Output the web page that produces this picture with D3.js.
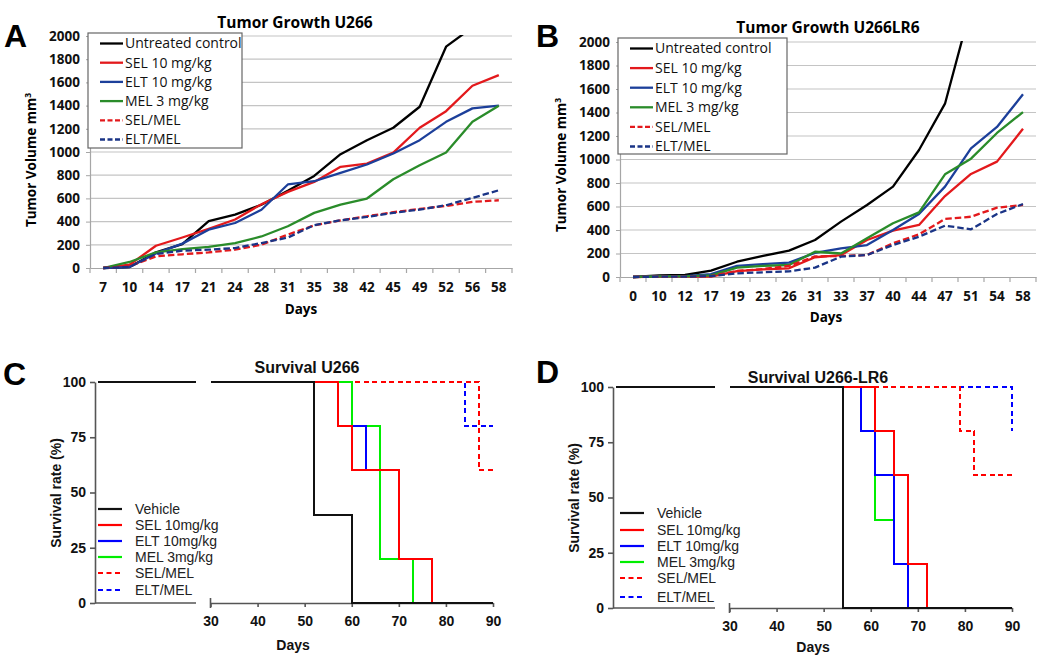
<!DOCTYPE html>
<html>
<head>
<meta charset="utf-8">
<title>Tumor growth and survival</title>
<script src="https://d3js.org/d3.v7.min.js"></script>
<style>
  body { margin: 0; background: #fff; }
</style>
</head>
<body>
<div id="chart"></div>
<script>
// ---- growth data (panel A, U266) ----
const daysA = [7, 10, 14, 17, 21, 24, 28, 31, 35, 38, 42, 45, 49, 52, 56, 58];
const untreatedA = [0, 8, 135, 205, 405, 460, 545, 665, 794, 981, 1102, 1209, 1390, 1908, 2075];
const selA = [0, 28, 192, 263, 338, 418, 550, 656, 742, 872, 900, 995, 1209, 1352, 1571, 1663];
const eltA = [0, 8, 126, 210, 330, 388, 502, 720, 748, 820, 892, 987, 1102, 1260, 1376, 1399];
const melA = [0, 52, 135, 162, 183, 215, 272, 360, 475, 547, 599, 765, 886, 996, 1260, 1399];
const selMelA = [0, 17, 100, 118, 135, 158, 200, 288, 368, 411, 446, 481, 509, 535, 570, 584];
const eltMelA = [0, 10, 121, 149, 158, 172, 215, 262, 370, 411, 440, 475, 504, 541, 604, 670];

// ---- growth data (panel B, U266LR6) ----
const daysB = [0, 10, 12, 17, 19, 23, 26, 31, 33, 37, 40, 44, 47, 51, 54, 58];
const untreatedB = [0, 14, 17, 54, 130, 179, 224, 315, 471, 613, 769, 1081, 1475, 2300];
const selB = [0, 3, 3, 3, 50, 65, 74, 168, 187, 315, 394, 443, 689, 877, 982, 1262];
const eltB = [0, 8, 8, 25, 94, 110, 122, 205, 244, 272, 400, 536, 769, 1095, 1277, 1555];
const melB = [0, 5, 5, 14, 80, 94, 102, 215, 200, 329, 457, 550, 874, 1007, 1226, 1404];
const selMelB = [0, 3, 3, 8, 51, 68, 94, 175, 179, 187, 287, 363, 494, 513, 590, 613];
const eltMelB = [0, 3, 3, 8, 31, 40, 48, 80, 173, 187, 272, 343, 437, 406, 536, 621];

const growthNames = ["Untreated control", "SEL 10 mg/kg", "ELT 10 mg/kg", "MEL 3 mg/kg", "SEL/MEL", "ELT/MEL"];
const growthTicks = [0, 200, 400, 600, 800, 1000, 1200, 1400, 1600, 1800, 2000];

// ---- survival data: [day, percent alive] ----
const vehicleC = [[0, 100], [52, 40], [60, 0], [90, 0]];
const selC = [[0, 100], [57, 80], [60, 60], [70, 20], [77, 0]];
const eltC = [[0, 100], [57, 80], [63, 60], [70, 20], [77, 0]];
const melC = [[0, 100], [60, 80], [66, 20], [73, 0]];
const selMelC = [[0, 100], [87, 60], [90, 60]];
const eltMelC = [[0, 100], [84, 80], [90, 80]];

const vehicleD = [[0, 100], [54, 0], [90, 0]];
const selD = [[0, 100], [61, 80], [65, 60], [68, 20], [72, 0]];
const eltD = [[0, 100], [58, 80], [61, 60], [65, 20], [68, 0]];
const melD = [[0, 100], [61, 40], [65, 20], [68, 0]];
const selMelD = [[0, 100], [79, 80], [82, 60], [90, 60]];
const eltMelD = [[0, 100], [90, 80]];

const survivalNames = ["Vehicle", "SEL 10mg/kg", "ELT 10mg/kg", "MEL 3mg/kg", "SEL/MEL", "ELT/MEL"];
const survivalTicks = [0, 25, 50, 75, 100];
const dayTicks = [30, 40, 50, 60, 70, 80, 90];

// styles
const xlColors = ["#000000", "#e3191c", "#1c3f9a", "#2a8c2a", "#e3191c", "#1a3486"];
const xlDash = [null, null, null, null, "6.5,3", "6.5,3"];
const pzColors = ["#111111", "#ff0000", "#0000ff", "#00ee00", "#ff0000", "#0000ff"];
const pzDash = [null, null, null, null, "5,3.5", "5,3.5"];
const xlFont = "'Open Sans', 'Liberation Sans', sans-serif";
const pzFont = "'Liberation Sans', Arial, sans-serif";

const svg = d3.select("#chart").append("svg")
  .attr("width", 1050).attr("height", 657);
svg.append("rect").attr("width", 1050).attr("height", 657).attr("fill", "#fff");

function growthPanel(p) {
  const g = svg.append("g");
  const x = d3.scaleBand().domain(p.days).range([p.left, p.right]);
  const y = d3.scaleLinear().domain([0, 2000]).range([p.bottom, p.top]);

  // gridlines
  g.append("g").selectAll("line").data(growthTicks.slice(1)).join("line")
    .attr("x1", p.left).attr("x2", p.right)
    .attr("y1", d => y(d)).attr("y2", d => y(d))
    .attr("stroke", "#c4c4c4").attr("stroke-width", 1.2);

  const ya = g.append("g").attr("transform", `translate(${p.left},0)`)
    .call(d3.axisLeft(y).tickValues(growthTicks).tickFormat(d3.format("d"))
      .tickSize(4).tickSizeOuter(0).tickPadding(6));
  ya.select(".domain").attr("stroke", "#a6a6a6").attr("stroke-width", 1.2);
  ya.selectAll(".tick line").attr("stroke", "#a6a6a6");
  ya.selectAll("text").attr("font-family", xlFont).attr("font-size", 13.5)
    .attr("font-weight", 700).attr("fill", "#111");

  const xa = g.append("g").attr("transform", `translate(0,${p.bottom})`)
    .call(d3.axisBottom(x).tickSize(0).tickSizeOuter(0).tickPadding(14));
  xa.select(".domain").attr("stroke", "#a6a6a6").attr("stroke-width", 1.2);
  xa.selectAll("text").attr("font-family", xlFont).attr("font-size", 13.5)
    .attr("font-weight", 700).attr("fill", "#111");
  // ticks between categories
  g.append("g").selectAll("line").data(d3.range(p.days.length + 1)).join("line")
    .attr("x1", i => p.left + i * x.step()).attr("x2", i => p.left + i * x.step())
    .attr("y1", p.bottom).attr("y2", p.bottom + 5)
    .attr("stroke", "#a6a6a6").attr("stroke-width", 1.2);

  const clipId = "clip" + p.letter;
  svg.append("clipPath").attr("id", clipId).append("rect")
    .attr("x", p.left).attr("y", p.top - 1)
    .attr("width", p.right - p.left).attr("height", p.bottom - p.top + 3);

  const line = d3.line()
    .x((d, i) => x(p.days[i]) + x.bandwidth() / 2)
    .y(d => y(d));
  const order = [0, 1, 2, 3, 4, 5];
  g.append("g").attr("clip-path", `url(#${clipId})`)
    .selectAll("path").data(order).join("path")
    .attr("d", i => line(p.series[i]))
    .attr("fill", "none")
    .attr("stroke", i => xlColors[i])
    .attr("stroke-width", 2.3)
    .attr("stroke-dasharray", i => xlDash[i])
    .attr("stroke-linejoin", "round");

  // legend
  const lg = g.append("g");
  lg.append("rect").attr("x", p.legX).attr("y", p.legY)
    .attr("width", p.legW).attr("height", p.legH)
    .attr("fill", "#fff").attr("stroke", "#666").attr("stroke-width", 1.2);
  const rows = lg.selectAll("g").data(growthNames).join("g")
    .attr("transform", (d, i) => `translate(${p.legX + 12},${p.legY + 10.5 + i * p.legStep})`);
  rows.append("line").attr("x1", 0).attr("x2", 23)
    .attr("stroke", (d, i) => xlColors[i]).attr("stroke-width", 2.3)
    .attr("stroke-dasharray", (d, i) => xlDash[i] ? "5,2.5" : null);
  rows.append("text").attr("x", 25).attr("dy", "0.35em")
    .attr("font-family", xlFont).attr("font-size", 14).attr("fill", "#111")
    .text(d => d);

  // titles
  g.append("text").attr("x", p.titleX).attr("y", p.titleY).attr("text-anchor", "middle")
    .attr("font-family", xlFont).attr("font-size", 15.5).attr("font-weight", 700)
    .text(p.title);
  g.append("text").attr("transform", `translate(${p.yLabX},${p.yLabY}) rotate(-90)`)
    .attr("text-anchor", "middle").attr("font-family", xlFont)
    .attr("font-size", 13.5).attr("font-weight", 700)
    .text("Tumor Volume mm").append("tspan").attr("dy", -5).attr("font-size", 8.5).text("3");
  g.append("text").attr("x", p.daysX).attr("y", p.daysY).attr("text-anchor", "middle")
    .attr("font-family", xlFont).attr("font-size", 13.5).attr("font-weight", 700)
    .text("Days");
  g.append("text").attr("x", p.letterX).attr("y", p.letterY)
    .attr("font-family", pzFont).attr("font-size", 32).attr("font-weight", 700)
    .text(p.letter);
}

// points of a step curve that fall inside one segment of the broken axis
function stepsIn(ev, lo, hi) {
  const valueAt = t => ev.filter(e => e[0] <= t).slice(-1)[0][1];
  const pts = [[lo, valueAt(lo)]];
  ev.forEach(e => { if (e[0] > lo && e[0] <= hi) pts.push(e); });
  const last = pts[pts.length - 1];
  if (last[0] < hi && ev[ev.length - 1][0] > last[0]) pts.push([hi, last[1]]);
  return pts;
}

function survivalPanel(p) {
  const g = svg.append("g");
  const y = d3.scaleLinear().domain([0, 100]).range([p.bottom, p.top]);
  const xL = d3.scaleLinear().domain([0, 25]).range([p.axisX + 3, p.leftEnd]);
  const xR = d3.scaleLinear().domain([30, 90]).range([p.r0, p.r1]);

  const ya = g.append("g").attr("transform", `translate(${p.axisX},0)`)
    .call(d3.axisLeft(y).tickValues(survivalTicks).tickSize(5).tickSizeOuter(0).tickPadding(4));
  ya.select(".domain").attr("stroke", "#555").attr("stroke-width", 1.6);
  ya.selectAll(".tick line").attr("stroke", "#555").attr("stroke-width", 1.6);
  ya.selectAll("text").attr("font-family", pzFont).attr("font-size", 14)
    .attr("font-weight", 700).attr("fill", "#111");

  // left axis segment (no ticks)
  g.append("line").attr("x1", p.axisX).attr("x2", xL(25))
    .attr("y1", y(0)).attr("y2", y(0))
    .attr("stroke", "#555").attr("stroke-width", 1.6);

  const xa = g.append("g").attr("transform", `translate(0,${p.bottom})`)
    .call(d3.axisBottom(xR).tickValues(dayTicks).tickSize(4).tickSizeOuter(0).tickPadding(9));
  xa.select(".domain").attr("stroke", "#555").attr("stroke-width", 1.6);
  xa.selectAll(".tick line").attr("stroke", "#555").attr("stroke-width", 1.6);
  xa.selectAll("text").attr("font-family", pzFont).attr("font-size", 14)
    .attr("font-weight", 700).attr("fill", "#111");
  g.append("line").attr("x1", xR(30)).attr("x2", xR(30))
    .attr("y1", p.bottom - 5).attr("y2", p.bottom + 5)
    .attr("stroke", "#555").attr("stroke-width", 1.6);

  const lineL = d3.line().curve(d3.curveStepAfter).x(d => xL(d[0])).y(d => y(d[1]));
  const lineR = d3.line().curve(d3.curveStepAfter).x(d => xR(d[0])).y(d => y(d[1]));
  const order = [5, 4, 3, 2, 1, 0];
  const lines = g.append("g").attr("shape-rendering", "crispEdges");
  order.forEach(i => {
    const ev = p.series[i];
    [[lineL, 0, 25], [lineR, 30, 90]].forEach(([ln, lo, hi]) => {
      lines.append("path").attr("d", ln(stepsIn(ev, lo, hi)))
        .attr("fill", "none").attr("stroke", pzColors[i]).attr("stroke-width", 2)
        .attr("stroke-dasharray", pzDash[i]);
    });
  });

  // legend
  const rows = g.append("g").selectAll("g").data(survivalNames).join("g")
    .attr("transform", (d, i) => `translate(${p.legX},${p.legRows[i]})`);
  rows.append("line").attr("x1", 0).attr("x2", 24)
    .attr("stroke", (d, i) => pzColors[i]).attr("stroke-width", 2.2)
    .attr("stroke-dasharray", (d, i) => pzDash[i] ? "5,3.5" : null);
  rows.append("text").attr("x", 37).attr("dy", "0.35em")
    .attr("font-family", pzFont).attr("font-size", 14).attr("fill", "#222")
    .text(d => d);

  g.append("text").attr("x", p.titleX).attr("y", p.titleY).attr("text-anchor", "middle")
    .attr("font-family", pzFont).attr("font-size", 16).attr("font-weight", 700)
    .attr("fill", "#111").text(p.title);
  g.append("text").attr("transform", `translate(${p.yLabX},${p.yLabY}) rotate(-90)`)
    .attr("text-anchor", "middle").attr("font-family", pzFont)
    .attr("font-size", 14).attr("font-weight", 700).attr("fill", "#111")
    .text("Survival rate (%)");
  g.append("text").attr("x", p.daysX).attr("y", p.daysY).attr("text-anchor", "middle")
    .attr("font-family", pzFont).attr("font-size", 14).attr("font-weight", 700)
    .attr("fill", "#111").text("Days");
  g.append("text").attr("x", p.letterX).attr("y", p.letterY)
    .attr("font-family", pzFont).attr("font-size", 32).attr("font-weight", 700)
    .text(p.letter);
}

growthPanel({
  letter: "A", letterX: 4, letterY: 47,
  days: daysA, series: [untreatedA, selA, eltA, melA, selMelA, eltMelA],
  left: 90, right: 512, top: 36, bottom: 268,
  title: "Tumor Growth U266", titleX: 295, titleY: 28,
  legX: 88, legY: 33, legW: 154, legH: 115, legStep: 19.2,
  yLabX: 36, yLabY: 160, daysX: 301, daysY: 314
});
growthPanel({
  letter: "B", letterX: 536, letterY: 47,
  days: daysB, series: [untreatedB, selB, eltB, melB, selMelB, eltMelB],
  left: 620, right: 1036, top: 42, bottom: 277,
  title: "Tumor Growth U266LR6", titleX: 828, titleY: 33,
  legX: 618, legY: 38, legW: 169, legH: 116, legStep: 19.6,
  yLabX: 566, yLabY: 165, daysX: 826, daysY: 322
});
survivalPanel({
  letter: "C", letterX: 3, letterY: 385,
  series: [vehicleC, selC, eltC, melC, selMelC, eltMelC],
  axisX: 95, leftEnd: 196, r0: 210.5, r1: 493, top: 382, bottom: 603,
  legX: 98, legRows: [509, 525, 541, 557, 573, 590],
  title: "Survival U266", titleX: 307, titleY: 373,
  yLabX: 61, yLabY: 493, daysX: 293, daysY: 650
});
survivalPanel({
  letter: "D", letterX: 536, letterY: 383,
  series: [vehicleD, selD, eltD, melD, selMelD, eltMelD],
  axisX: 613, leftEnd: 715, r0: 729.5, r1: 1012, top: 387, bottom: 608,
  legX: 620, legRows: [513, 530, 546, 562, 578, 597],
  title: "Survival U266-LR6", titleX: 818, titleY: 383,
  yLabX: 579, yLabY: 498, daysX: 813, daysY: 652
});
</script>
</body>
</html>
